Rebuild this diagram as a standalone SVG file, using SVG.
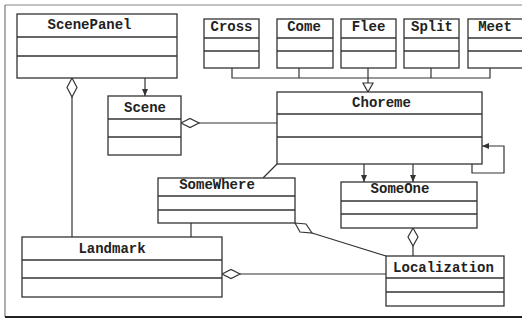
<svg xmlns="http://www.w3.org/2000/svg" width="522" height="320" viewBox="0 0 522 320">
<style>
.box{fill:#fff;stroke:#333;stroke-width:1.3}
.div{stroke:#333;stroke-width:1.3}
.t{font-family:"Liberation Mono","Courier New",monospace;font-weight:bold;font-size:14px;fill:#222;text-anchor:middle}
.c{fill:none;stroke:#333;stroke-width:1.2}
.dia{fill:#fff;stroke:#333;stroke-width:1.2}
</style>
<defs>
<marker id="arr" markerWidth="8" markerHeight="8" refX="7" refY="4" orient="auto" markerUnits="userSpaceOnUse">
<path d="M0,1 L7,4 L0,7 z" fill="#333"/>
</marker>
</defs>
<rect width="522" height="320" fill="#fff"/>
<g id="frame">
<line x1="5" y1="5" x2="522" y2="5" stroke="#888" stroke-width="1.2"/>
<line x1="5" y1="5" x2="5" y2="317" stroke="#777" stroke-width="1.2"/>
<line x1="5" y1="317" x2="522" y2="317" stroke="#222" stroke-width="2"/>
</g>
<g id="connectors">
<!-- generalization -->
<polyline class="c" points="232,68 232,78 490,78 490,68"/>
<line class="c" x1="299" y1="68" x2="299" y2="78"/>
<line class="c" x1="431" y1="68" x2="431" y2="78"/>
<line class="c" x1="368" y1="68" x2="368" y2="83"/>
<polygon class="dia" points="363,83 373,83 368,92"/>
<!-- ScenePanel -> Scene -->
<line class="c" x1="145" y1="78" x2="145" y2="96" marker-end="url(#arr)"/>
<!-- ScenePanel - Landmark aggregation -->
<line class="c" x1="72" y1="97" x2="72" y2="237"/>
<polygon class="dia" points="72,78 77,87.5 72,97 67,87.5"/>
<!-- Scene - Choreme -->
<line class="c" x1="199" y1="123" x2="277" y2="123"/>
<polygon class="dia" points="181,123 190,118.5 199,123 190,127.5"/>
<!-- self loop -->
<polyline class="c" points="472,164 472,173 504,173 504,146 482,146" marker-end="url(#arr)"/>
<!-- Choreme -> SomeOne -->
<line class="c" x1="364" y1="164" x2="364" y2="182" marker-end="url(#arr)"/>
<line class="c" x1="413" y1="164" x2="413" y2="182" marker-end="url(#arr)"/>
<!-- Choreme - SomeWhere -->
<line class="c" x1="277" y1="164" x2="263" y2="178"/>
<!-- SomeWhere - Landmark -->
<line class="c" x1="191" y1="223" x2="191" y2="237"/>
<!-- SomeWhere - Localization -->
<line class="c" x1="312" y1="233" x2="386" y2="256"/>
<polygon class="dia" points="295,223 306,224 312,233 300,232"/>
<!-- SomeOne - Localization -->
<line class="c" x1="413" y1="246" x2="413" y2="256"/>
<polygon class="dia" points="413,228 418,237 413,246 408,237"/>
<!-- Landmark - Localization -->
<line class="c" x1="240" y1="274" x2="386" y2="274"/>
<polygon class="dia" points="222,274 231,269.5 240,274 231,278.5"/>
</g>
<g id="ScenePanel">
<rect class="box" x="17" y="14" width="160" height="64"/>
<line class="div" x1="17" y1="37" x2="177" y2="37"/>
<line class="div" x1="17" y1="56" x2="177" y2="56"/>
<text class="t" x="89.5" y="29">ScenePanel</text>
</g>
<g id="Cross">
<rect class="box" x="204" y="19" width="55" height="49"/>
<line class="div" x1="204" y1="38" x2="259" y2="38"/>
<line class="div" x1="204" y1="51" x2="259" y2="51"/>
<text class="t" x="231.5" y="31">Cross</text>
</g>
<g id="Come">
<rect class="box" x="277" y="19" width="56" height="49"/>
<line class="div" x1="277" y1="38" x2="333" y2="38"/>
<line class="div" x1="277" y1="51" x2="333" y2="51"/>
<text class="t" x="304" y="31">Come</text>
</g>
<g id="Flee">
<rect class="box" x="341" y="19" width="55" height="49"/>
<line class="div" x1="341" y1="38" x2="396" y2="38"/>
<line class="div" x1="341" y1="51" x2="396" y2="51"/>
<text class="t" x="368.5" y="31">Flee</text>
</g>
<g id="Split">
<rect class="box" x="404" y="19" width="55" height="49"/>
<line class="div" x1="404" y1="38" x2="459" y2="38"/>
<line class="div" x1="404" y1="51" x2="459" y2="51"/>
<text class="t" x="432" y="31">Split</text>
</g>
<g id="Meet">
<rect class="box" x="468" y="19" width="60" height="49"/>
<line class="div" x1="468" y1="38" x2="528" y2="38"/>
<line class="div" x1="468" y1="51" x2="528" y2="51"/>
<text class="t" x="495" y="31">Meet</text>
</g>
<g id="Scene">
<rect class="box" x="108" y="96" width="73" height="59"/>
<line class="div" x1="108" y1="119" x2="181" y2="119"/>
<line class="div" x1="108" y1="137" x2="181" y2="137"/>
<text class="t" x="145" y="112">Scene</text>
</g>
<g id="Choreme">
<rect class="box" x="277" y="92" width="205" height="72"/>
<line class="div" x1="277" y1="114" x2="482" y2="114"/>
<line class="div" x1="277" y1="137" x2="482" y2="137"/>
<text class="t" x="381.5" y="107">Choreme</text>
</g>
<g id="SomeWhere">
<rect class="box" x="158" y="178" width="137" height="45"/>
<line class="div" x1="158" y1="196" x2="295" y2="196"/>
<line class="div" x1="158" y1="210" x2="295" y2="210"/>
<text class="t" x="217" y="189">SomeWhere</text>
</g>
<g id="SomeOne">
<rect class="box" x="341" y="182" width="136" height="46"/>
<line class="div" x1="341" y1="201" x2="477" y2="201"/>
<line class="div" x1="341" y1="214" x2="477" y2="214"/>
<text class="t" x="400" y="193">SomeOne</text>
</g>
<g id="Landmark">
<rect class="box" x="22" y="237" width="200" height="60"/>
<line class="div" x1="22" y1="260" x2="222" y2="260"/>
<line class="div" x1="22" y1="278" x2="222" y2="278"/>
<text class="t" x="112" y="253">Landmark</text>
</g>
<g id="Localization">
<rect class="box" x="386" y="256" width="118" height="50"/>
<line class="div" x1="386" y1="278" x2="504" y2="278"/>
<line class="div" x1="386" y1="292" x2="504" y2="292"/>
<text class="t" x="443.5" y="272">Localization</text>
</g>
</svg>
